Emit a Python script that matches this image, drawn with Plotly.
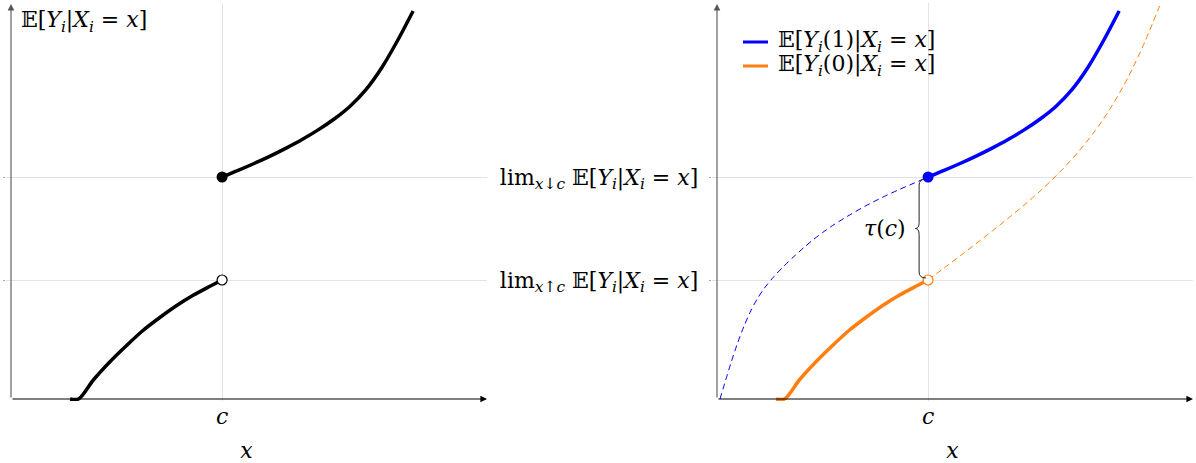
import plotly.graph_objects as go

# cutoff and the two one-sided limits at the cutoff
c = 2.0
y_below = 1.19
y_above = 2.22

# E[Y(0)|X=x] for x < c (observed branch)
x_ctrl_obs = [0.56, 0.64, 0.78, 0.94, 1.10, 1.25, 1.41, 1.57, 1.73, 1.89, 2.0]
y_ctrl_obs = [0.0, 0.0, 0.19, 0.375, 0.54, 0.685, 0.815, 0.935, 1.04, 1.13, 1.19]

# E[Y(0)|X=x] for x > c (counterfactual branch)
x_ctrl_cf = [2.0, 2.158, 2.317, 2.475, 2.633, 2.791, 2.95, 3.108, 3.266, 3.425, 3.583, 3.741, 3.9, 4.058, 4.216]
y_ctrl_cf = [1.19, 1.315, 1.442, 1.571, 1.701, 1.835, 1.975, 2.125, 2.289, 2.473, 2.683, 2.93, 3.227, 3.581, 3.99]

# E[Y(1)|X=x] for x > c (observed branch)
x_treat_obs = [2.0, 2.152, 2.303, 2.455, 2.607, 2.758, 2.91, 3.062, 3.213, 3.365, 3.517, 3.668, 3.81]
y_treat_obs = [2.22, 2.286, 2.355, 2.429, 2.509, 2.595, 2.691, 2.80, 2.928, 3.096, 3.32, 3.595, 3.88]

# E[Y(1)|X=x] for x < c (counterfactual branch)
x_treat_cf = [0.028, 0.082, 0.130, 0.192, 0.256, 0.319, 0.382, 0.445, 0.540, 0.635, 0.730,
              0.825, 0.919, 1.014, 1.109, 1.261, 1.412, 1.564, 1.716, 1.867, 2.0]
y_treat_cf = [0.0, 0.188, 0.353, 0.551, 0.729, 0.88, 1.002, 1.103, 1.225, 1.33, 1.426,
              1.516, 1.599, 1.675, 1.744, 1.843, 1.933, 2.015, 2.09, 2.159, 2.22]

x_tick_text = ["<i>c</i>"]
y_tick_text = [
    "lim<sub><i>x</i>↑<i>c</i></sub> 𝔼[<i>Y<sub>i</sub></i>|<i>X<sub>i</sub></i> = <i>x</i>]",
    "lim<sub><i>x</i>↓<i>c</i></sub> 𝔼[<i>Y<sub>i</sub></i>|<i>X<sub>i</sub></i> = <i>x</i>]",
]
legend_names = [
    "𝔼[<i>Y<sub>i</sub></i>(1)|<i>X<sub>i</sub></i> = <i>x</i>]",
    "𝔼[<i>Y<sub>i</sub></i>(0)|<i>X<sub>i</sub></i> = <i>x</i>]",
]

BLUE = "#0000ff"
ORANGE = "#ff7f0e"
SERIF = "DejaVu Serif, Liberation Serif, DejaVu Sans, serif"
FS = 22
W, H = 1196, 463
XMAX, YMAX = 4.51, 3.95
XR = [-0.05, XMAX]
YR = [-0.02, 3.96]
THICK = 3.5
DASH = "6px,4px"
SPL = dict(shape="spline", smoothing=0.8)

fig = go.Figure()

# ---- left panel: observed conditional expectation ----
for xs, ys in ((x_ctrl_obs, y_ctrl_obs), (x_treat_obs, y_treat_obs)):
    fig.add_trace(go.Scatter(x=xs, y=ys, mode="lines", line=dict(color="black", width=THICK, **SPL),
                             showlegend=False, xaxis="x", yaxis="y"))
fig.add_trace(go.Scatter(x=[c], y=[y_above], mode="markers", marker=dict(color="black", size=11),
                         showlegend=False, xaxis="x", yaxis="y"))
fig.add_trace(go.Scatter(x=[c], y=[y_below], mode="markers",
                         marker=dict(color="white", size=10, line=dict(color="black", width=1.2)),
                         showlegend=False, xaxis="x", yaxis="y"))

# ---- right panel: potential outcomes ----
fig.add_trace(go.Scatter(x=x_treat_cf, y=y_treat_cf, mode="lines",
                         line=dict(color=BLUE, width=1, dash=DASH, **SPL),
                         showlegend=False, xaxis="x2", yaxis="y2"))
fig.add_trace(go.Scatter(x=x_ctrl_cf, y=y_ctrl_cf, mode="lines",
                         line=dict(color=ORANGE, width=1, dash=DASH, **SPL),
                         showlegend=False, xaxis="x2", yaxis="y2"))
fig.add_trace(go.Scatter(x=x_treat_obs, y=y_treat_obs, mode="lines",
                         line=dict(color=BLUE, width=THICK, **SPL),
                         name=legend_names[0], showlegend=False, xaxis="x2", yaxis="y2"))
fig.add_trace(go.Scatter(x=x_ctrl_obs, y=y_ctrl_obs, mode="lines",
                         line=dict(color=ORANGE, width=THICK, **SPL),
                         name=legend_names[1], showlegend=False, xaxis="x2", yaxis="y2"))
fig.add_trace(go.Scatter(x=[c], y=[y_above], mode="markers", marker=dict(color=BLUE, size=11),
                         showlegend=False, xaxis="x2", yaxis="y2"))
fig.add_trace(go.Scatter(x=[c], y=[y_below], mode="markers",
                         marker=dict(color="white", size=10, line=dict(color=ORANGE, width=1.2)),
                         showlegend=False, xaxis="x2", yaxis="y2"))


# plot-area domains in paper units
def px_x(p):
    return p / W


def px_y(p):
    return (H - p) / H


left_dom = [px_x(11 + XR[0] * 105.5), px_x(487)]
right_dom = [px_x(717 + XR[0] * 105.5), px_x(1193)]
y_dom = [px_y(399 - YR[0] * 100), px_y(399 - YR[1] * 100)]

common_x = dict(range=XR, tickvals=[c], ticktext=x_tick_text, showgrid=True, gridcolor="#e3e3e3", gridwidth=1,
                zeroline=False, showline=False, ticks="", fixedrange=True,
                tickfont=dict(family=SERIF, size=FS, color="black"),
                title=dict(text="<i>x</i>", font=dict(family=SERIF, size=FS, color="black"), standoff=14))
common_y = dict(range=YR, tickvals=[y_below, y_above], showgrid=True, gridcolor="#e3e3e3", gridwidth=1,
                zeroline=False, showline=False, ticks="outside", ticklen=2, tickcolor="#aaaaaa", fixedrange=True)

fig.update_layout(
    width=W, height=H, autosize=False,
    margin=dict(l=0, r=0, t=0, b=0),
    paper_bgcolor="white", plot_bgcolor="white",
    showlegend=False,
    xaxis=dict(domain=left_dom, anchor="y", **common_x),
    yaxis=dict(domain=y_dom, anchor="x", showticklabels=False, **common_y),
    xaxis2=dict(domain=right_dom, anchor="y2", **common_x),
    yaxis2=dict(domain=y_dom, anchor="x2", ticktext=y_tick_text, showticklabels=True,
                tickfont=dict(family=SERIF, size=FS, color="black"), ticklabelstandoff=6, **common_y),
)

# axis arrows
annotations = []
for xa, ya in (("x", "y"), ("x2", "y2")):
    annotations.append(dict(x=XMAX, y=0, ax=0, ay=0, xref=xa, yref=ya, axref=xa, ayref=ya, text="",
                            showarrow=True, arrowhead=2, arrowsize=1.2, arrowwidth=1.1, arrowcolor="black"))
    annotations.append(dict(x=0, y=YMAX, ax=0, ay=0, xref=xa, yref=ya, axref=xa, ayref=ya, text="",
                            showarrow=True, arrowhead=2, arrowsize=1.2, arrowwidth=1.1, arrowcolor="#555555"))

# y label of the left panel
annotations.append(dict(x=px_x(19), y=px_y(22), xref="paper", yref="paper", xanchor="left", yanchor="middle",
                        text="𝔼[<i>Y<sub>i</sub></i>|<i>X<sub>i</sub></i> = <i>x</i>]", showarrow=False,
                        font=dict(family=SERIF, size=FS, color="black")))

# legend of the right panel
for i, (name, col) in enumerate(zip(legend_names, (BLUE, ORANGE))):
    yy = px_y(42 + 24 * i)
    fig.add_shape(type="line", xref="paper", yref="paper", x0=px_x(743), x1=px_x(768), y0=yy, y1=yy,
                  line=dict(color=col, width=3))
    annotations.append(dict(x=px_x(776), y=yy, xref="paper", yref="paper", xanchor="left", yanchor="middle",
                            text=name, showarrow=False, font=dict(family=SERIF, size=FS, color="black")))

# treatment effect label next to the brace
annotations.append(dict(x=c - 0.41, y=(y_below + y_above) / 2, xref="x2", yref="y2",
                        text="<i>τ</i>(<i>c</i>)", showarrow=False,
                        font=dict(family=SERIF, size=FS, color="black")))
fig.update_layout(annotations=annotations)

# curly brace spanning the jump at the cutoff
bx = c - 0.085
tip = c - 0.12
mid = (y_below + y_above) / 2
r = 0.06
brace = (f"M {c - 0.02},{y_above - 0.02} Q {bx},{y_above - 0.02} {bx},{y_above - 0.02 - r} "
         f"L {bx},{mid + r} Q {bx},{mid} {tip},{mid} Q {bx},{mid} {bx},{mid - r} "
         f"L {bx},{y_below + 0.02 + r} Q {bx},{y_below + 0.02} {c - 0.02},{y_below + 0.02}")
fig.add_shape(type="path", path=brace, xref="x2", yref="y2", line=dict(color="#222222", width=1))

fig.write_html("out.html")
